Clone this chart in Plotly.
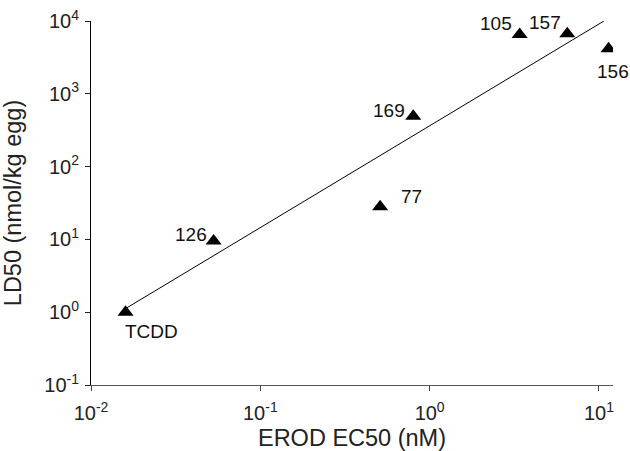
import numpy as np
import plotly.graph_objects as go

# Data
congeners = ["TCDD", "126", "77", "169", "105", "157", "156"]
erod_ec50 = [0.016, 0.053, 0.51, 0.80, 3.4, 6.5, 11.4]
ld50 = [1.0, 9.5, 28, 490, 6500, 6700, 4150]

fit_x = [0.0163, 10.7]
fit_y = [1.15, 10000]

x_tickvals = [0.01, 0.1, 1, 10]
x_ticktext = ["10<sup>-2</sup>", "10<sup>-1</sup>", "10<sup>0</sup>", "10<sup>1</sup>"]
y_tickvals = [0.1, 1, 10, 100, 1000, 10000]
y_ticktext = ["10<sup>-1</sup>", "10<sup>0</sup>", "10<sup>1</sup>", "10<sup>2</sup>",
              "10<sup>3</sup>", "10<sup>4</sup>"]

FONT = "Liberation Sans, Arial, Helvetica, sans-serif"

fig = go.Figure()
fig.add_trace(go.Scatter(x=fit_x, y=fit_y, mode="lines",
                         line=dict(color="black", width=1), showlegend=False,
                         hoverinfo="skip"))
fig.add_trace(go.Scatter(x=erod_ec50, y=ld50, mode="markers",
                         marker=dict(symbol="triangle-up", size=14, color="black"),
                         showlegend=False))

# label offsets (pixels) and anchors per congener
label_style = {
    "TCDD": dict(xanchor="left", xshift=-3, yshift=-19),
    "126": dict(xanchor="right", xshift=-5, yshift=7),
    "77": dict(xanchor="left", xshift=19, yshift=10),
    "169": dict(xanchor="right", xshift=-6, yshift=6),
    "105": dict(xanchor="right", xshift=-6, yshift=11),
    "157": dict(xanchor="right", xshift=-4, yshift=11),
    "156": dict(xanchor="center", xshift=4, yshift=-23),
}
for name, xv, yv in zip(congeners, erod_ec50, ld50):
    st = label_style[name]
    fig.add_annotation(x=np.log10(xv), y=np.log10(yv), text=name, showarrow=False,
                       xanchor=st["xanchor"], yanchor="middle",
                       xshift=st["xshift"], yshift=st["yshift"],
                       font=dict(family=FONT, size=19, color="#111"))

fig.update_xaxes(type="log", range=[-2, np.log10(12.1)], automargin=False,
                 tickvals=x_tickvals, ticktext=x_ticktext,
                 ticks="outside", ticklen=5, tickcolor="#444",
                 ticklabelstandoff=5, ticklabeloverflow="allow",
                 showline=True, linecolor="#555", linewidth=1,
                 showgrid=False, zeroline=False,
                 tickfont=dict(family=FONT, size=20, color="#222"),
                 title=dict(text="EROD EC50 (nM)", standoff=6,
                            font=dict(family=FONT, size=23.5, color="#222")))
fig.update_yaxes(type="log", range=[-1, 4], automargin=False,
                 tickvals=y_tickvals, ticktext=y_ticktext,
                 ticks="outside", ticklen=5, tickcolor="#222",
                 ticklabelstandoff=2, ticklabeloverflow="allow",
                 showline=True, linecolor="black", linewidth=1,
                 showgrid=False, zeroline=False,
                 tickfont=dict(family=FONT, size=20, color="#222"),
                 title=dict(text="LD50 (nmol/kg egg)", standoff=20,
                            font=dict(family=FONT, size=23.5, color="#222")))

fig.update_layout(width=630, height=451,
                  margin=dict(l=91, r=17, t=21, b=66),
                  plot_bgcolor="white", paper_bgcolor="white",
                  font=dict(family=FONT))

# remove the default page margin so the figure fills the window exactly
fig.write_html("out.html",
               config={"displayModeBar": False},
               post_script="document.body.style.margin='0';"
                           "document.body.style.overflow='hidden';")
